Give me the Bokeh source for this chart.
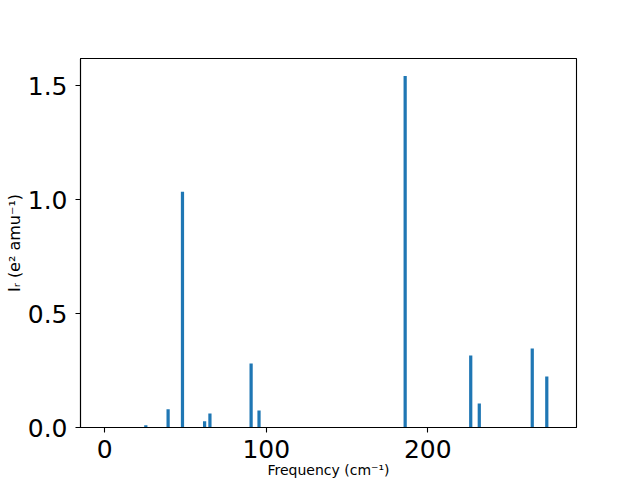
from bokeh.plotting import figure
from bokeh.models import Range1d, FixedTicker, ColumnDataSource, CustomJSTickFormatter
from bokeh.embed import file_html
from bokeh.resources import INLINE

# Data
frequencies = [25.4, 39.2, 48.1, 61.8, 65.1, 90.6, 95.5, 186.0, 226.6, 231.9, 264.7, 273.7]
intensities = [0.010, 0.080, 1.035, 0.027, 0.062, 0.281, 0.075, 1.543, 0.316, 0.105, 0.347, 0.224]
x_ticks = [0, 100, 200]
y_ticks = [0.0, 0.5, 1.0, 1.5]
x_label = "Frequency (cm⁻¹)"
y_label = "Iᵣ (e² amu⁻¹)"

src = ColumnDataSource(data=dict(x=frequencies, top=intensities))

p = figure(width=640, height=480, output_backend="svg", toolbar_location=None,
           x_range=Range1d(-15.05, 292.1), y_range=Range1d(0, 1.62),
           min_border_left=80, min_border_right=64, min_border_top=58, min_border_bottom=53)

p.vbar(x="x", top="top", bottom=0, width=2.0, source=src,
       fill_color="#1f77b4", line_color=None)

p.grid.visible = False
p.background_fill_color = "white"
p.border_fill_color = "white"
p.outline_line_color = "black"
p.outline_line_width = 1.1

for ax in (p.xaxis, p.yaxis):
    ax.major_label_text_font = "DejaVu Sans"
    ax.major_label_text_font_size = "25px"
    ax.major_label_text_color = "black"
    ax.axis_line_color = "black"
    ax.axis_line_width = 1.1
    ax.major_tick_line_color = "black"
    ax.major_tick_line_width = 1.1
    ax.major_tick_out = 5
    ax.major_tick_in = 0
    ax.minor_tick_line_color = None
    ax.axis_label_text_font = "DejaVu Sans"
    ax.axis_label_text_font_style = "normal"
    ax.axis_label_text_color = "black"
    ax.axis_label_standoff = 1

p.xaxis.ticker = FixedTicker(ticks=x_ticks)
p.yaxis.ticker = FixedTicker(ticks=y_ticks)
p.xaxis.major_label_standoff = 7
p.yaxis.major_label_standoff = 8
p.yaxis.formatter = CustomJSTickFormatter(code="return tick.toFixed(1);")

p.xaxis.axis_label = x_label
p.yaxis.axis_label = y_label
p.xaxis.axis_label_text_font_size = "14px"
p.yaxis.axis_label_text_font_size = "16px"

open("out.html", "w").write(file_html(p, INLINE))
